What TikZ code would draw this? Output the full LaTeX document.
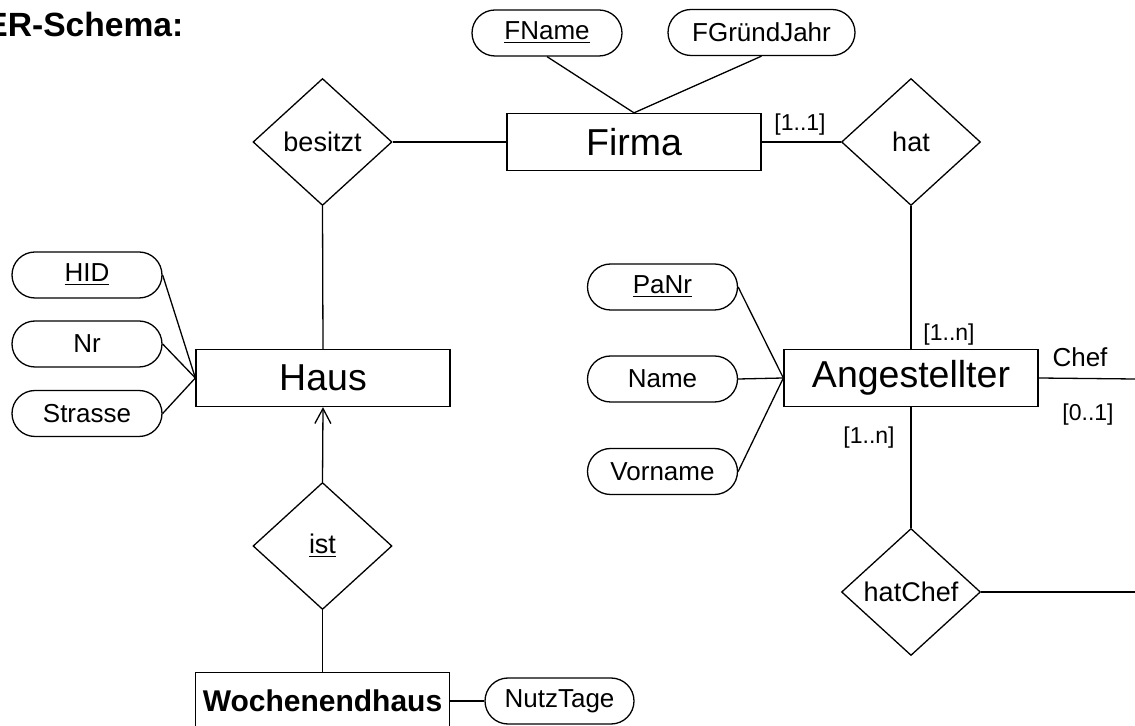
\documentclass[tikz,border=0pt]{standalone}
\usepackage{fontspec}
\setmainfont{Liberation Sans}
\usetikzlibrary{shapes.geometric,shapes.misc,arrows.meta}

\begin{document}
\begin{tikzpicture}[
    x=0.5pt, y=-0.5pt,
    line width=0.65pt,
    entity/.style={draw, rectangle, minimum width=127pt, minimum height=28.5pt, inner sep=0pt, font=\fontsize{18.75}{20}\selectfont},
    weakentity/.style={entity, font=\fontsize{15}{17}\selectfont\bfseries},
    attr/.style={draw, rounded rectangle, minimum width=75pt, minimum height=23pt, inner sep=0pt, font=\fontsize{13}{15}\selectfont},
    rel/.style={draw, diamond, minimum width=69.5pt, minimum height=63.5pt, inner sep=0pt, font=\fontsize{13.5}{15}\selectfont},
    card/.style={inner sep=0pt, font=\fontsize{11.5}{13}\selectfont},
    role/.style={inner sep=0pt, font=\fontsize{13}{15}\selectfont},
    isa/.style={-{Straight Barb[length=7.5pt,width=8pt]}},
]
  \useasboundingbox (0,0) rectangle (1135,726);

  \node[anchor=base east, inner sep=0pt, font=\fontsize{16.8}{18}\selectfont\bfseries] (titel) at (184,37) {ER-Schema:};

  % Entitaeten
  \node[entity] (firma) at (634,142) {Firma};
  \node[entity] (haus) at (323,378) {Haus};
  \node[entity] (angest) at (911,378) {Angestellter};
  \node[weakentity] (wochend) at (322.5,701) {Wochenendhaus};

  % Beziehungen
  \node[rel] (besitzt) at (322.5,142) {besitzt};
  \node[rel] (hat) at (911,142) {hat};
  \node[rel] (ist) at (322.5,546) {\underline{ist}};
  \node[rel] (hatchef) at (911,592) {hatChef};

  % Attribute
  \node[attr] (fname) at (547,33) {\underline{FName}};
  \node[attr, minimum width=93.5pt] (fgruend) at (761.5,32.5) {FGründJahr};
  \node[attr] (hid) at (87,275) {\underline{HID}};
  \node[attr] (nr) at (87,344) {Nr};
  \node[attr] (strasse) at (87,413.5) {Strasse};
  \node[attr] (panr) at (662.5,287) {\underline{PaNr}};
  \node[attr] (name) at (662.5,379) {Name};
  \node[attr] (vorname) at (662.5,471.5) {Vorname};
  \node[attr, minimum width=74.5pt] (nutztage) at (559.5,701) {NutzTage};

  \coordinate (chefende) at (1135,379);
  \coordinate (hatchefende) at (1135,592);

  % Kanten
  \draw (fname.south) -- (firma.north);
  \draw (fgruend.south) -- (firma.north);
  \draw (besitzt.east) -- (firma.west);
  \draw (besitzt.south) -- (haus.north);
  \draw (firma.east) -- (hat.west);
  \draw (hat.south) -- (angest.north);
  \draw (hid.east) -- (haus.west);
  \draw (nr.east) -- (haus.west);
  \draw (strasse.east) -- (haus.west);
  \draw[isa] (ist.north) -- (haus.south);
  \draw (ist.south) -- (wochend.north);
  \draw (wochend.east) -- (nutztage.west);
  \draw (panr.east) -- (angest.west);
  \draw (name.east) -- (angest.west);
  \draw (vorname.east) -- (angest.west);
  \draw (angest.south) -- (hatchef.north);
  \draw (angest.east) -- (chefende);
  \draw (hatchef.east) -- (hatchefende);

  % Kardinalitaeten
  \node[card] (k11) at (800,125) {[1..1]};
  \node[card] (k1n) at (949,335) {[1..n]};
  \node[card] (k1nb) at (869,438) {[1..n]};
  \node[card] (k01) at (1088,415) {[0..1]};
  \node[role] (chef) at (1080,357) {Chef};
\end{tikzpicture}
\end{document}
